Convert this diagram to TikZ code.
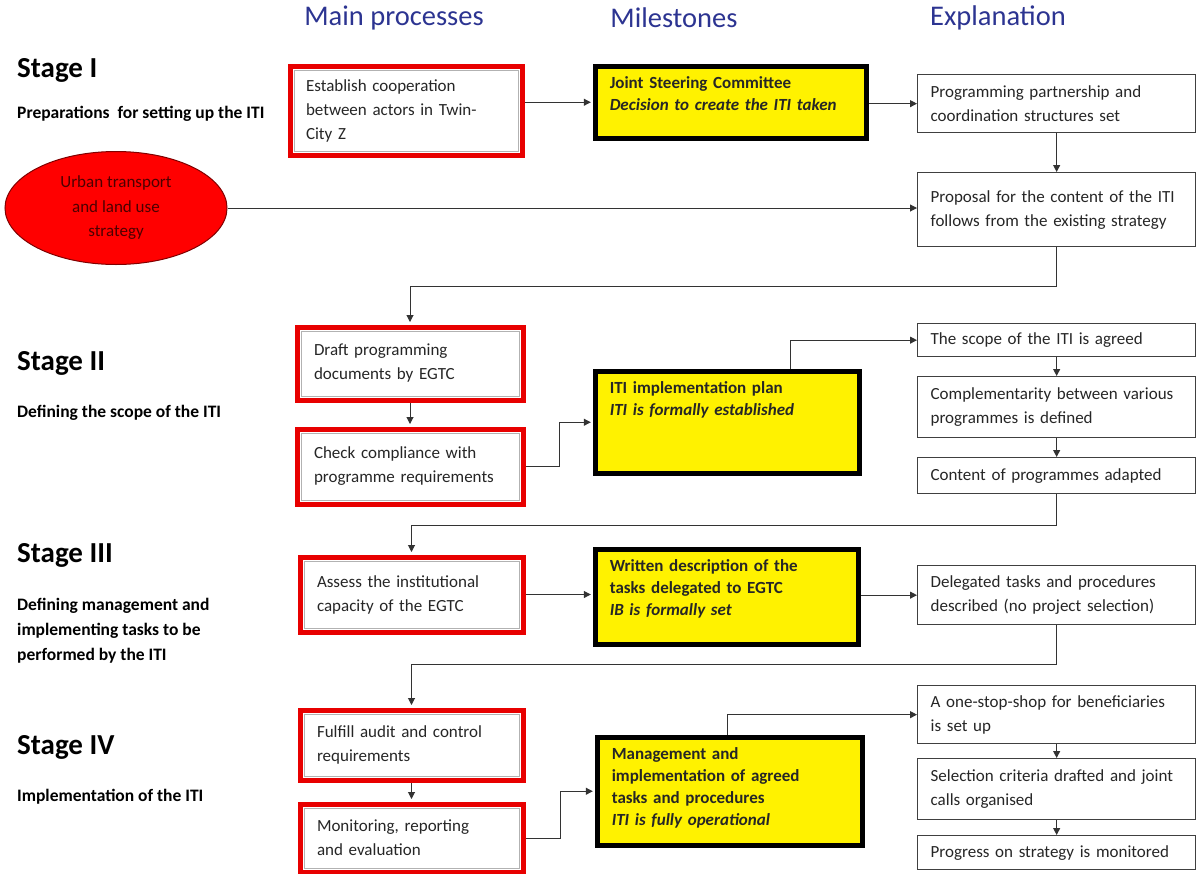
\documentclass[tikz,border=0pt]{standalone}
\usepackage{fontspec}
\setmainfont{Carlito}
\usepackage{tikz}
\usetikzlibrary{positioning,arrows.meta,shapes.geometric,backgrounds}
\definecolor{headblue}{RGB}{44,52,145}
\definecolor{boxred}{RGB}{232,0,0}

\begin{document}
\begin{tikzpicture}[x=1pt,y=-1pt,
    head/.style={font=\fontsize{28.5}{34}\selectfont,text=headblue},
    stage/.style={anchor=west,inner sep=0pt,font=\fontsize{29}{34}\selectfont\bfseries},
    stagesub/.style={anchor=west,inner sep=0pt,align=left,font=\fontsize{17.5}{25}\selectfont\bfseries},
    process/.style={anchor=north west,draw=boxred,line width=5pt,fill=white,align=left,inner sep=0pt,
        font=\fontsize{17}{24}\selectfont,text=black!85,
        path picture={\draw[gray!60,line width=0.8pt] ([shift={(4pt,4pt)}]path picture bounding box.south west)
            rectangle ([shift={(-4pt,-4pt)}]path picture bounding box.north east);}},
    milestone/.style={anchor=north west,draw=black,line width=4.5pt,fill=yellow,align=left,
        inner xsep=0pt,inner ysep=10pt,text height=12pt,font=\fontsize{17}{22}\selectfont\bfseries,text=black!85},
    expl/.style={anchor=north west,draw=black!75,line width=1.3pt,fill=white,align=left,inner sep=0pt,
        minimum width=278pt,text width=252pt,font=\fontsize{17}{24}\selectfont,text=black!85},
    conn/.style={draw=black!80,line width=1pt,-{Triangle[length=7pt,width=7pt]}}]

  \useasboundingbox (0,0) rectangle (1196,873);

  \node[head] (hmain) at (394,18) {Main processes};
  \node[head] (hmile) at (674,18) {Milestones};
  \node[head] (hexpl) at (998,18) {Explanation};

  \node[stage] (st1) at (17,70) {Stage I};
  \node[stagesub] (sub1) at (17,114) {Preparations\ \ for setting up the ITI};
  \node[stage] (st2) at (17,363) {Stage II};
  \node[stagesub] (sub2) at (17,413) {Defining the scope of the ITI};
  \node[stage] (st3) at (17,555) {Stage III};
  \node[stagesub] (sub3) at (17,631) {Defining management and\\implementing tasks to be\\performed by the ITI};
  \node[stage] (st4) at (17,747) {Stage IV};
  \node[stagesub] (sub4) at (17,797) {Implementation of the ITI};

  \node[ellipse,draw=red!50!black,line width=1pt,fill=red,minimum width=222pt,minimum height=113pt,
        align=center,font=\fontsize{17}{24.5}\selectfont,text=red!30!black] (strategy) at (116,208)
        {Urban transport\\and land use\\strategy};

  \node[process,minimum width=232pt,minimum height=89pt,text width=200pt] (coop) at (287.5,63.5)
        {Establish cooperation\\between actors in Twin-\\City Z};
  \node[process,minimum width=226pt,minimum height=73pt,text width=192pt] (draft) at (294.5,324.5)
        {Draft programming\\documents by EGTC};
  \node[process,minimum width=226pt,minimum height=75pt,text width=192pt] (check) at (294.5,426.5)
        {Check compliance with\\programme requirements};
  \node[process,minimum width=223pt,minimum height=75pt,text width=189pt] (assess) at (297.5,554.5)
        {Assess the institutional\\capacity of the EGTC};
  \node[process,minimum width=223pt,minimum height=70pt,text width=189pt] (audit) at (297.5,707.5)
        {Fulfill audit and control\\requirements};
  \node[process,minimum width=223pt,minimum height=68pt,text width=189pt] (monitor) at (297.5,801.5)
        {Monitoring, reporting\\and evaluation};

  \node[milestone,minimum width=271pt,text width=242pt,text depth=40pt] (jsc) at (593,64)
        {Joint Steering Committee\\\textit{Decision to create the ITI taken}};
  \node[milestone,minimum width=264pt,text width=235pt,text depth=70pt] (plan) at (593,369)
        {ITI implementation plan\\\textit{ITI is formally established}};
  \node[milestone,minimum width=263pt,text width=234pt,text depth=63pt] (tasks) at (593,547)
        {Written description of the\\tasks delegated to EGTC\\\textit{IB is formally set}};
  \node[milestone,minimum width=265pt,text width=236pt,text depth=76pt] (operate) at (595,735)
        {Management and\\implementation of agreed\\tasks and procedures\\\textit{ITI is fully operational}};

  \node[expl,minimum height=58pt] (partner) at (917,74) {Programming partnership and\\coordination structures set};
  \node[expl,minimum height=74pt] (proposal) at (917,172) {Proposal for the content of the ITI\\follows from the existing strategy};
  \node[expl,minimum height=33pt] (scope) at (917,323) {The scope of the ITI is agreed};
  \node[expl,minimum height=61pt] (compl) at (917,376) {Complementarity between various\\programmes is defined};
  \node[expl,minimum height=36pt] (content) at (917,457) {Content of programmes adapted};
  \node[expl,minimum height=59pt] (delegated) at (917,565) {Delegated tasks and procedures\\described (no project selection)};
  \node[expl,minimum height=58pt] (onestop) at (917,685) {A one-stop-shop for beneficiaries\\is set up};
  \node[expl,minimum height=61pt] (criteria) at (917,758) {Selection criteria drafted and joint\\calls organised};
  \node[expl,minimum height=34pt] (progress) at (917,835) {Progress on strategy is monitored};

  \begin{scope}[on background layer]
    \draw[conn,shorten >=2.2pt] (coop.east |- jsc.west) -- (jsc.west);
    \draw[conn] (jsc.east |- partner.west) -- (partner.west);
    \draw[conn] (partner.south) -- (proposal.north);
    \draw[conn] (strategy.east) -- (strategy.east -| proposal.west);
    \draw[conn,shorten >=2.5pt] (proposal.south) -- ++(0,39) -| (draft.north);
    \draw[conn,shorten >=2.5pt] (draft.south) -- (check.north);
    \draw[conn,shorten >=2.2pt] (check.east) -- ++(34,0) |- (plan.west);
    \draw[conn] ([xshift=197pt]plan.north west) |- (scope.west);
    \draw[conn] (scope.south) -- (compl.north);
    \draw[conn] (compl.south) -- (content.north);
    \draw[conn,shorten >=2.5pt] (content.south) -- ++(0,31) -| (assess.north);
    \draw[conn,shorten >=2.2pt] (assess.east) -- (assess.east -| tasks.west);
    \draw[conn] (tasks.east |- delegated.west) -- (delegated.west);
    \draw[conn,shorten >=2.5pt] (delegated.south) -- ++(0,39) -| (audit.north);
    \draw[conn,shorten >=2.5pt] (audit.south) -- (monitor.north);
    \draw[conn,shorten >=2.2pt] (monitor.east) -- ++(35,0) |- (operate.west);
    \draw[conn] ([xshift=132pt]operate.north west) |- (onestop.west);
    \draw[conn] (onestop.south) -- (criteria.north);
    \draw[conn] (criteria.south) -- (progress.north);
  \end{scope}
\end{tikzpicture}
\end{document}
